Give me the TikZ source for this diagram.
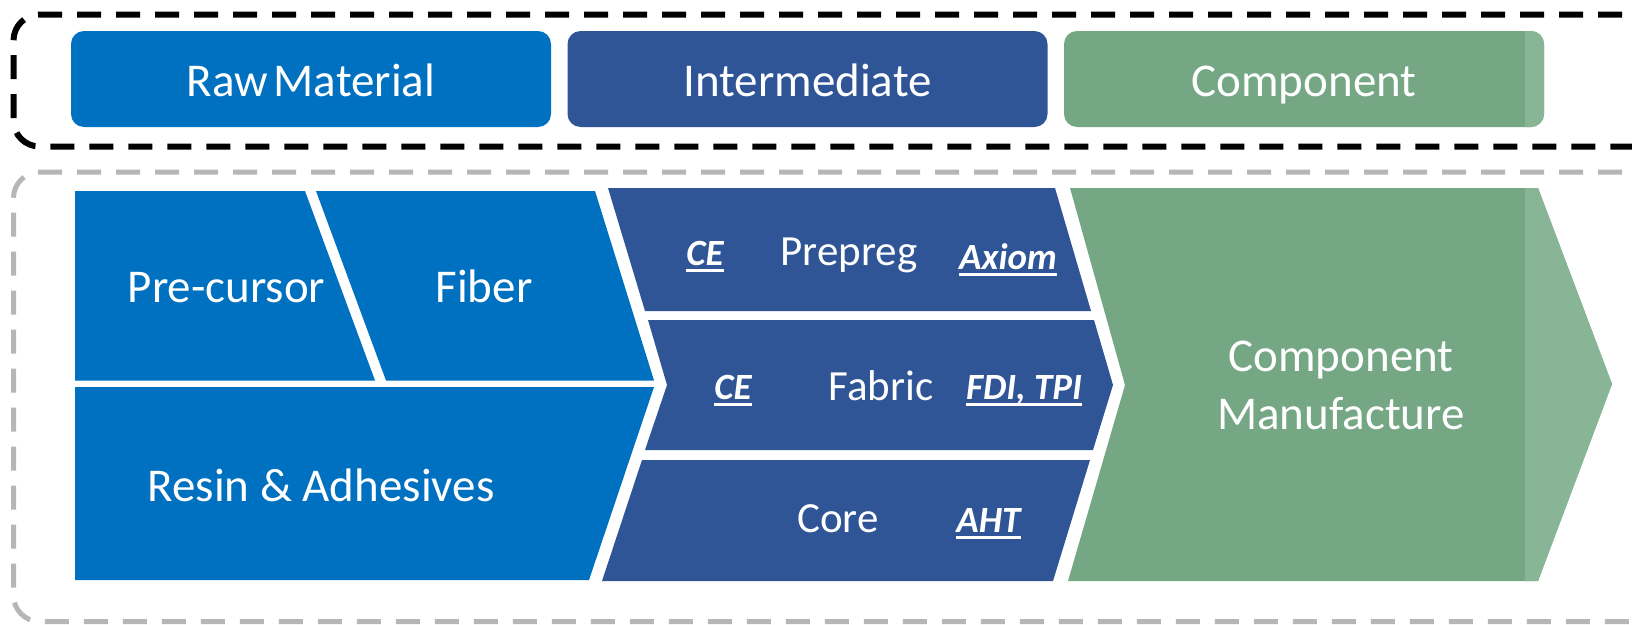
\documentclass[tikz,border=0pt]{standalone}
\usepackage{fontspec}
\setmainfont{Carlito}
\definecolor{rawblue}{RGB}{0,112,192}
\definecolor{midblue}{RGB}{47,85,151}
\definecolor{compgreen}{RGB}{117,167,133}
\definecolor{lightgreen}{RGB}{135,181,150}
\definecolor{dashgray}{RGB}{182,182,182}
\newcommand\ulx[1]{\setbox0\hbox{#1}\leavevmode\rlap{\rule[-6.5pt]{\wd0}{2.6pt}}\box0}
\begin{document}
\begin{tikzpicture}[x=1pt,y=-1pt,
  hdr/.style={rounded corners=13pt, minimum width=480pt, minimum height=96pt,
    inner sep=0pt, text=white, font=\fontsize{47}{56}\selectfont,
    text height=35pt, text depth=0pt},
  lbl/.style={text=white, inner sep=0pt, anchor=base, font=\fontsize{47}{56}\selectfont},
  mlbl/.style={text=white, inner sep=0pt, anchor=base, font=\fontsize{43}{50}\selectfont},
  tag/.style={text=white, inner sep=0pt, anchor=base, font=\fontsize{37}{44}\selectfont\bfseries\itshape},
  frame/.style={line width=6pt, dash pattern=on 24pt off 15pt, rounded corners=26pt}
  ]
\useasboundingbox (0,0) rectangle (1632,624);
\clip (0,0) rectangle (1632,624);

% dashed frames
\draw[frame, black] (1700,14.5) -- (13.5,14.5) -- (13.5,146.5) -- (1700,146.5);
\draw[frame, dashgray, line width=5pt] (1700,172) -- (13.5,172) -- (13.5,621.5) -- (1700,621.5);

% header boxes
\node[hdr, fill=rawblue] (raw) at (311,79) {Raw\hspace{0.12em}Material};
\node[hdr, fill=midblue] (inter) at (807.5,79) {Intermediate};
\node[hdr, fill=compgreen] (comp) at (1304,79) {Component};
\begin{scope}
  \clip[rounded corners=13pt] (1064,31) rectangle (1544,127);
  \fill[lightgreen] (1525,20) rectangle (1560,140);
\end{scope}

% raw material shapes
\fill[rawblue] (75,191) -- (305,191) -- (375,380.5) -- (75,380.5) -- cycle;
\fill[rawblue] (316,191) -- (595,191) -- (654,380.5) -- (386,380.5) -- cycle;
\fill[rawblue] (75,387) -- (654,387) -- (589,580) -- (75,580) -- cycle;

% intermediate shapes
\fill[midblue] (608,188) -- (1055,188) -- (1091,311) -- (645,311) -- cycle;
\fill[midblue] (648,320) -- (1094,320) -- (1113,385) -- (1093,450) -- (645,450) -- (667,385) -- cycle;
\fill[midblue] (642,460) -- (1090,460) -- (1053,581) -- (602,581) -- cycle;

% component shape
\fill[compgreen] (1070,188) -- (1538,188) -- (1612,384) -- (1538,581) -- (1068,581) -- (1125,385) -- cycle;
\begin{scope}
  \clip (1070,188) -- (1538,188) -- (1612,384) -- (1538,581) -- (1068,581) -- (1125,385) -- cycle;
  \fill[lightgreen] (1525,180) rectangle (1620,590);
\end{scope}

% labels
\node[lbl] (pre) at (226.5,302) {Pre-cursor};
\node[lbl] (fib) at (484,302) {Fiber};
\node[lbl] (res) at (321,501) {Resin \& Adhesives};

\node[mlbl] (prep) at (849,265) {Prepreg};
\node[tag] (ce1) at (705,265) {\ulx{CE}};
\node[tag] (axi) at (1008,269) {\ulx{Axiom}};

\node[mlbl] (fab) at (881,400) {Fabric};
\node[tag] (ce2) at (733,399.5) {\ulx{CE}};
\node[tag] (fdi) at (1024,399.5) {\ulx{FDI, TPI}};

\node[mlbl] (core) at (838,532) {Core};
\node[tag] (aht) at (988.5,532.5) {\ulx{AHT}};

\node[text=white, inner sep=0pt, align=center, font=\fontsize{47}{58.3}\selectfont]
  (cm) at (1341,385.7) {Component\\Manufacture};
\end{tikzpicture}
\end{document}
